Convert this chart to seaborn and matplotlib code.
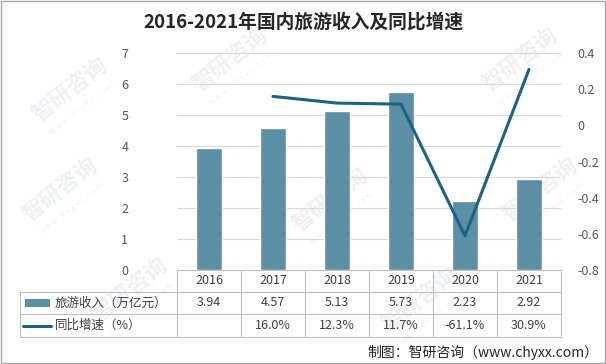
import matplotlib
matplotlib.use("Agg")
import matplotlib.pyplot as plt
import seaborn as sns
import pandas as pd
import numpy as np
from matplotlib.patches import Rectangle
from matplotlib.lines import Line2D

years = ["2016", "2017", "2018", "2019", "2020", "2021"]
revenue = [3.94, 4.57, 5.13, 5.73, 2.23, 2.92]
growth = [None, 0.160, 0.123, 0.117, -0.611, 0.309]
revenue_labels = ["3.94", "4.57", "5.13", "5.73", "2.23", "2.92"]
growth_labels = ["", "16.0%", "12.3%", "11.7%", "-61.1%", "30.9%"]
left_ticks = [0, 1, 2, 3, 4, 5, 6, 7]
right_ticks = [-0.8, -0.6, -0.4, -0.2, 0, 0.2, 0.4]
right_tick_labels = ["-0.8", "-0.6", "-0.4", "-0.2", "0", "0.2", "0.4"]

sns.set_theme(style="white")
plt.rcParams['font.family'] = ['Noto Sans CJK SC', 'DejaVu Sans']

BAR = "#5B8FA6"
LINE = "#1B6384"
GRID = "#D9D9D9"
TXT = "#595959"

W, H = 606, 364
fig = plt.figure(figsize=(6.06, 3.64), dpi=100)
fig.patch.set_facecolor("white")

# background axes for watermarks
bg = fig.add_axes([0, 0, 1, 1], zorder=-5)
bg.set_xlim(0, W)
bg.set_ylim(H, 0)
bg.axis("off")
wm_pos = [(70, 90), (230, 60), (520, 60), (60, 190), (330, 200), (540, 190), (130, 290), (420, 300)]
for (px, py) in wm_pos:
    bg.text(px, py, "智研咨询", fontsize=16, color="#EDF0F4", rotation=38,
            ha="center", va="center", fontweight="bold")
    bg.text(px + 12, py + 18, "w w w . c h y x x . c o m", fontsize=5.5, color="#EEF1F4",
            rotation=38, ha="center", va="center")
bg.add_patch(Rectangle((0.5, 0.5), W - 1.5, H - 1.5, fill=False, edgecolor="#A6A6A6", linewidth=1.0))

x0, x1 = 177, 561
y0, y1 = 53, 270
ax = fig.add_axes([x0 / W, 1 - y1 / H, (x1 - x0) / W, (y1 - y0) / H])
ax.patch.set_alpha(0)

df = pd.DataFrame({"year": years, "revenue": revenue})
sns.barplot(data=df, x="year", y="revenue", color=BAR, width=0.4, saturation=1, ax=ax, zorder=3)
ax.set_xlim(-0.5, len(years) - 0.5)
ax.set_ylim(0, 7)
ax.set_yticks(left_ticks)
ax.set_yticklabels([str(t) for t in left_ticks], color=TXT, fontsize=9)
ax.tick_params(axis="y", length=0, pad=35)
ax.set_xticks([])
ax.set_xlabel("")
ax.set_ylabel("")
for s in ax.spines.values():
    s.set_visible(False)
for t in left_ticks[1:]:
    ax.axhline(t, color=GRID, linewidth=0.8, zorder=1)

ax2 = ax.twinx()
gdf = pd.DataFrame({"x": list(range(1, 6)), "g": growth[1:]})
sns.lineplot(data=gdf, x="x", y="g", color=LINE, linewidth=2.2, ax=ax2, zorder=4)
ax2.set_ylim(-0.8, 0.4)
ax2.set_xlim(-0.5, len(years) - 0.5)
ax2.set_yticks(right_ticks)
ax2.set_yticklabels(right_tick_labels, color=TXT, fontsize=9)
ax2.tick_params(axis="y", length=0, pad=12)
ax2.set_xlabel("")
ax2.set_ylabel("")
for s in ax2.spines.values():
    s.set_visible(False)

# data table
tcol = "#BFBFBF"
rows = [270, 292, 314, 337]
def fy(py):
    return 1 - py / H
def fxp(px):
    return px / W
bounds = [x0 + i * (x1 - x0) / len(years) for i in range(len(years) + 1)]
fig.add_artist(Line2D([fxp(x0), fxp(x1)], [fy(rows[0]), fy(rows[0])], color=tcol, lw=0.8))
for r in rows[1:]:
    fig.add_artist(Line2D([fxp(20), fxp(x1)], [fy(r), fy(r)], color=tcol, lw=0.8))
for b in bounds:
    fig.add_artist(Line2D([fxp(b), fxp(b)], [fy(rows[0]), fy(rows[3])], color=tcol, lw=0.8))
fig.add_artist(Line2D([fxp(20), fxp(20)], [fy(rows[1]), fy(rows[3])], color=tcol, lw=0.8))

tr = ax.get_xaxis_transform()
def rowy(i):
    py = (rows[i] + rows[i + 1]) / 2
    return -(py - y1) / (y1 - y0)
for i, yr in enumerate(years):
    ax.text(i, rowy(0), yr, transform=tr, ha="center", va="center", fontsize=9, color="#404040", clip_on=False)
    ax.text(i, rowy(1), revenue_labels[i], transform=tr, ha="center", va="center", fontsize=9, color="#404040", clip_on=False)
    ax.text(i, rowy(2), growth_labels[i], transform=tr, ha="center", va="center", fontsize=9, color="#404040", clip_on=False)

fig.patches.append(Rectangle((fxp(25), fy(307)), 25 / W, 8 / H, transform=fig.transFigure,
                             facecolor=BAR, edgecolor="none"))
fig.add_artist(Line2D([fxp(23), fxp(51)], [fy(325.5), fy(325.5)], color=LINE, lw=2.2))
fig.text(fxp(55), fy(303), "旅游收入（万亿元）", fontsize=9, color="#404040", ha="left", va="center")
fig.text(fxp(55), fy(325.5), "同比增速（%）", fontsize=9, color="#404040", ha="left", va="center")

fig.text(303 / W, fy(22), "2016-2021年国内旅游收入及同比增速", fontsize=13.5, fontweight="bold",
         color="#262626", ha="center", va="center")
fig.text(fxp(598), fy(352), "制图：智研咨询（www.chyxx.com）", fontsize=10, color="#262626", ha="right", va="center")

fig.savefig("out.png", dpi=100)
